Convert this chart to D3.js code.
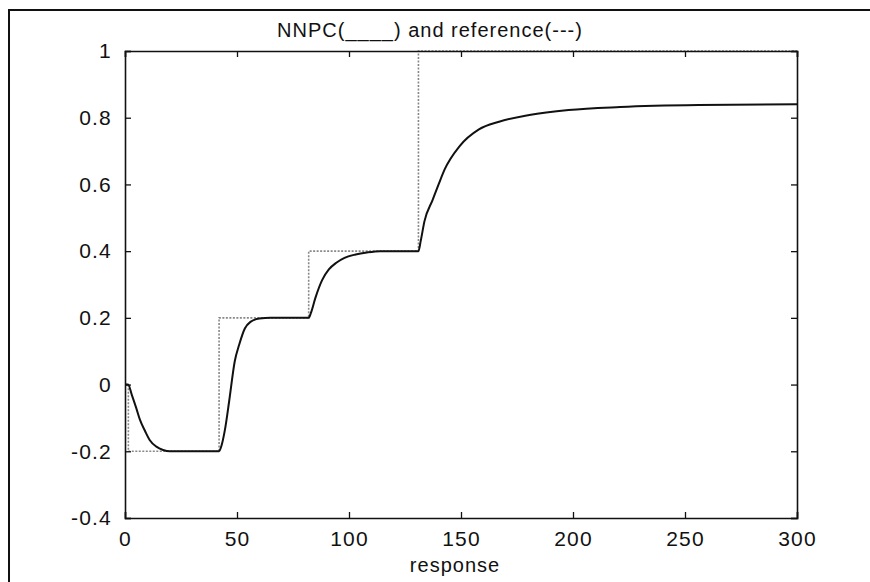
<!DOCTYPE html>
<html>
<head>
<meta charset="utf-8">
<script src="https://cdn.jsdelivr.net/npm/d3@7"></script>
<style>
  body { margin: 0; background: #fff; }
  svg text { font-family: "Liberation Sans", Arial, sans-serif; fill: #111; }
</style>
</head>
<body>
<svg id="chart" width="870" height="582"></svg>
<script>
// NNPC response (solid)
const nnpcT = [0, 1.4, 3, 5, 6.7, 9, 11, 14, 17, 20, 42, 43, 44.6, 46.5, 49, 51, 53.5, 56, 60, 65,
  82, 83, 85, 88, 91, 94.5, 98, 103, 108, 114, 131, 132, 133.7, 137.3, 140, 142.7, 149.4, 158, 167,
  180.5, 198, 221, 256, 300];
const nnpcY = [0, 0, -0.03, -0.07, -0.106, -0.14, -0.166, -0.186, -0.196, -0.2, -0.2, -0.185, -0.136,
  -0.05, 0.07, 0.12, 0.168, 0.188, 0.198, 0.2, 0.2, 0.215, 0.26, 0.313, 0.345, 0.366, 0.38, 0.39,
  0.396, 0.4, 0.4, 0.43, 0.49, 0.553, 0.6, 0.645, 0.715, 0.765, 0.788, 0.808, 0.823, 0.832, 0.838, 0.84];

// reference steps (dotted)
const refT = [0, 1.5, 42, 82, 131, 300];
const refY = [0, -0.2, 0.2, 0.4, 1, 1];

const xTicks = [0, 50, 100, 150, 200, 250, 300];
const yTicks = [-0.4, -0.2, 0, 0.2, 0.4, 0.6, 0.8, 1];

const svg = d3.select('#chart');
const pLeft = 125, pRight = 797, pTop = 51, pBottom = 518;

const x = d3.scaleLinear().domain([0, 300]).range([pLeft, pRight]);
const y = d3.scaleLinear().domain([-0.4, 1]).range([pBottom, pTop]);

// outer frame of the scanned figure
svg.append('path')
  .attr('d', 'M9,582 L9,10 L870,10')
  .attr('fill', 'none').attr('stroke', '#111').attr('stroke-width', 2);

svg.append('clipPath').attr('id', 'plotclip')
  .append('rect').attr('x', pLeft).attr('y', pTop - 1)
  .attr('width', pRight - pLeft).attr('height', pBottom - pTop + 1);

const nnpc = nnpcT.map((t, i) => [t, nnpcY[i]]);
const ref = refT.map((t, i) => [t, refY[i]]);

const g = svg.append('g').attr('clip-path', 'url(#plotclip)');

g.append('path')
  .datum(ref)
  .attr('fill', 'none')
  .attr('stroke', '#888')
  .attr('stroke-width', 1.6)
  .attr('stroke-dasharray', '2,1.5')
  .attr('d', d3.line().x(d => x(d[0])).y(d => y(d[1])).curve(d3.curveStepAfter));

g.append('path')
  .datum(nnpc)
  .attr('fill', 'none')
  .attr('stroke', '#111')
  .attr('stroke-width', 2)
  .attr('d', d3.line().x(d => x(d[0])).y(d => y(d[1])).curve(d3.curveMonotoneX));

// axes, matlab style ticks pointing in
const fmtY = d => (d === 0 || d === 1) ? String(d) : d.toFixed(1);

const xb = svg.append('g').attr('transform', `translate(0,${pBottom})`)
  .call(d3.axisBottom(x).tickValues(xTicks).tickSize(-6).tickPadding(13).tickFormat(d3.format('d')));
const xt = svg.append('g').attr('transform', `translate(0,${pTop})`)
  .call(d3.axisTop(x).tickValues(xTicks).tickSize(-6).tickFormat(''));
const yl = svg.append('g').attr('transform', `translate(${pLeft},0)`)
  .call(d3.axisLeft(y).tickValues(yTicks).tickSize(-6).tickPadding(13).tickFormat(fmtY));
const yr = svg.append('g').attr('transform', `translate(${pRight},0)`)
  .call(d3.axisRight(y).tickValues(yTicks).tickSize(-6).tickFormat(''));

[xb, xt, yl, yr].forEach(a => {
  a.select('.domain').attr('stroke', '#111').attr('stroke-width', 1.6);
  a.selectAll('.tick line').attr('stroke', '#111').attr('stroke-width', 1.3);
  a.selectAll('.tick text')
    .style('font-size', '21px')
    .style('letter-spacing', '1.2px')
    .attr('fill', '#111');
});

svg.append('text')
  .attr('x', 430).attr('y', 37)
  .attr('text-anchor', 'middle')
  .style('font-size', '20px')
  .style('letter-spacing', '1px')
  .text('NNPC(____) and reference(---)');

svg.append('text')
  .attr('x', 455).attr('y', 572)
  .attr('text-anchor', 'middle')
  .style('font-size', '20px')
  .style('letter-spacing', '1px')
  .text('response');
</script>
</body>
</html>
